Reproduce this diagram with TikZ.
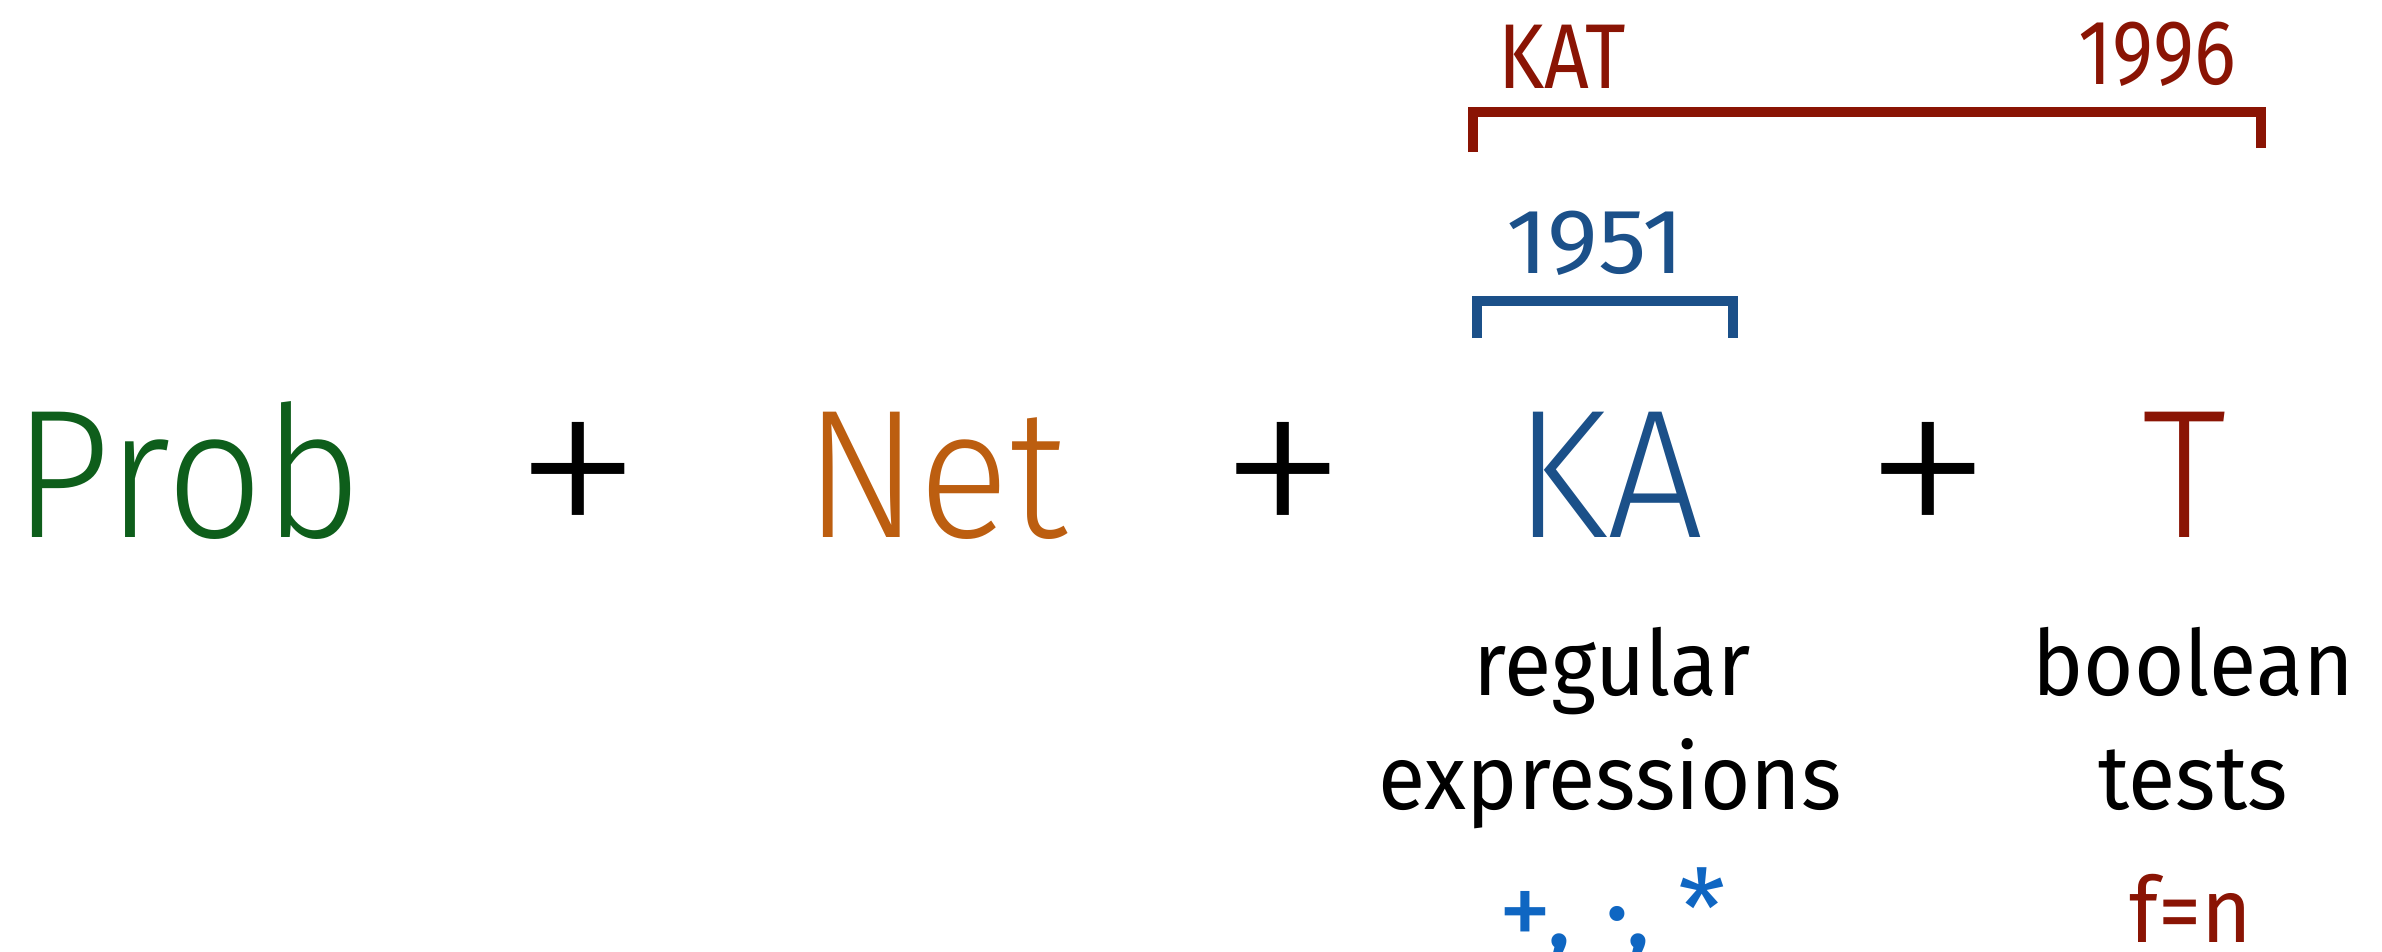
\documentclass[tikz,border=0pt]{standalone}
\usepackage{fontspec}
\setmainfont{Fira Sans}
\newfontfamily\bigfont[FakeStretch=0.93]{Fira Sans Light}
\newfontfamily\plusfont{Fira Sans ExtraLight}
\newfontfamily\subfont[FakeStretch=0.95]{Fira Sans}
\newfontfamily\opsfont{Fira Sans}
\newfontfamily\yearfont[FakeStretch=0.85]{Fira Sans}
\newfontfamily\wideyearfont[FakeStretch=1.05]{Fira Sans}
\definecolor{cgreen}{HTML}{0E5E1B}
\definecolor{corange}{HTML}{BC5E10}
\definecolor{cblue}{HTML}{1B5089}
\definecolor{cred}{HTML}{8A1404}
\definecolor{cbright}{HTML}{0F66C2}
\tikzset{
  bigword/.style={anchor=base, inner sep=0pt, font=\bigfont\fontsize{183}{200}\selectfont},
  plussign/.style={anchor=base, inner sep=0pt, font=\plusfont\fontsize{268}{280}\selectfont, text=black},
  sublabel/.style={anchor=base, inner sep=0pt, font=\subfont\fontsize{91}{100}\selectfont, text=black},
  yearlabel/.style={anchor=base, inner sep=0pt, font=\yearfont\fontsize{92}{100}\selectfont},
  bracketline/.style={line width=10pt, miter limit=10}
}
\begin{document}
\begin{tikzpicture}[x=1pt, y=-1pt]
\useasboundingbox (0,0) rectangle (2382,951);
% main row
\node[bigword, text=cgreen] (prob) at (188,537) {Prob};
\node[plussign] (p1) at (578,557) {+};
\node[bigword, text=corange] (net) at (936,537) {Net};
\node[plussign] (p2) at (1283,557) {+};
\node[bigword, text=cblue] (ka) at (1609,537) {KA};
\node[plussign] (p3) at (1928,557) {+};
\node[bigword, text=cred] (t) at (2185,537) {T};
% sub labels
\node[sublabel] (reg) at (1612,695) {regular};
\node[sublabel] (expr) at (1610,809) {expressions};
\node[sublabel] (bool) at (2193,695) {boolean};
\node[sublabel] (tests) at (2193,809) {tests};
\node[sublabel, text=cbright, font=\opsfont\fontsize{108}{110}\selectfont] (ops) at (1612,947) {+,\hspace{0.3em}·,\hspace{0.25em}*};
\node[sublabel, text=cred] (fn) at (2191,942) {f=n};
% blue bracket
\coordinate (bl) at (1477,338);
\coordinate (br) at (1733,338);
\draw[bracketline, cblue] (bl) -- ++(0,-37) -| (br);
\node[yearlabel, font=\wideyearfont\fontsize{92}{100}\selectfont, text=cblue] (y1951) at (1595,273) {1951};
% red bracket
\coordinate (rl) at (1473,152);
\coordinate (rr) at (2261,148);
\draw[bracketline, cred] (rl) |- (2266,112) coordinate (rtop);
\draw[line width=10pt, cred] (rr) -- (2261,107);
\node[yearlabel, text=cred] (kat) at (1562,88) {KAT};
\node[yearlabel, text=cred] (y1996) at (2157,84) {1996};
\end{tikzpicture}
\end{document}
